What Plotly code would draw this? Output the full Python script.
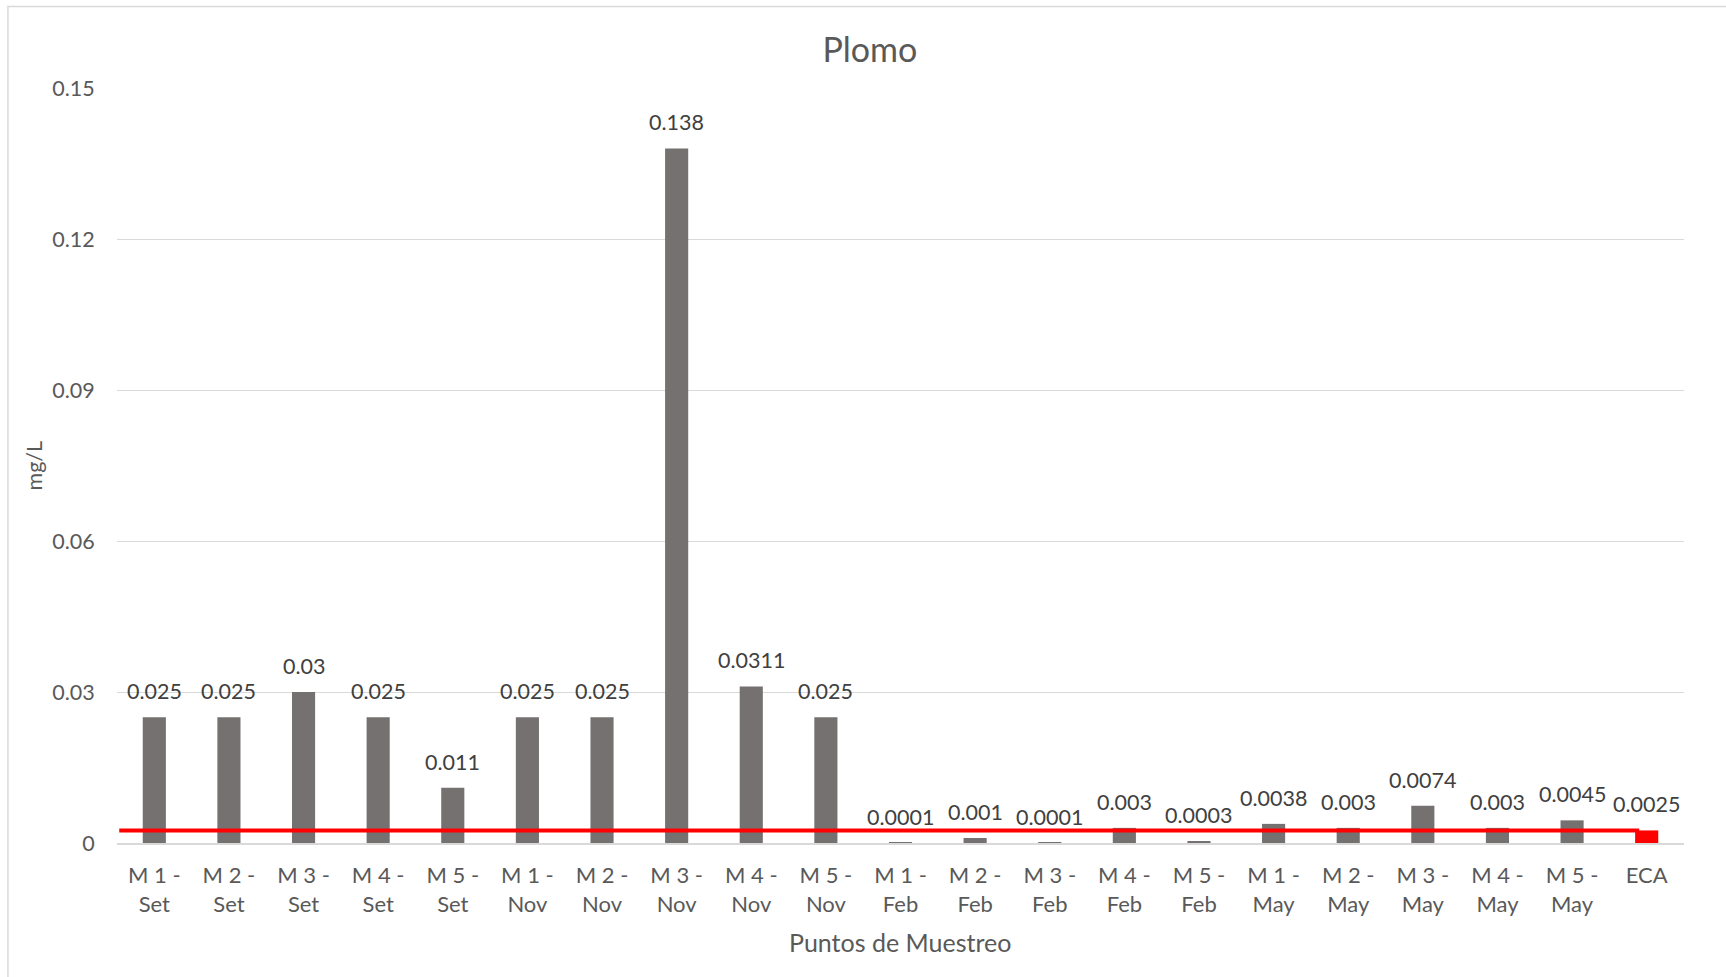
import plotly.graph_objects as go

# Sampling points (two-line tick labels) and lead concentrations in mg/L
categories = [
    "M 1 -<br>Set", "M 2 -<br>Set", "M 3 -<br>Set", "M 4 -<br>Set", "M 5 -<br>Set",
    "M 1 -<br>Nov", "M 2 -<br>Nov", "M 3 -<br>Nov", "M 4 -<br>Nov", "M 5 -<br>Nov",
    "M 1 -<br>Feb", "M 2 -<br>Feb", "M 3 -<br>Feb", "M 4 -<br>Feb", "M 5 -<br>Feb",
    "M 1 -<br>May", "M 2 -<br>May", "M 3 -<br>May", "M 4 -<br>May", "M 5 -<br>May",
    "ECA",
]
plomo = [
    0.025, 0.025, 0.03, 0.025, 0.011,
    0.025, 0.025, 0.138, 0.0311, 0.025,
    0.0001, 0.001, 0.0001, 0.003, 0.0003,
    0.0038, 0.003, 0.0074, 0.003, 0.0045,
    0.0025,
]
value_labels = [
    "0.025", "0.025", "0.03", "0.025", "0.011",
    "0.025", "0.025", "0.138", "0.0311", "0.025",
    "0.0001", "0.001", "0.0001", "0.003", "0.0003",
    "0.0038", "0.003", "0.0074", "0.003", "0.0045",
    "0.0025",
]
eca_limit = 0.0025
y_ticks = [0, 0.03, 0.06, 0.09, 0.12, 0.15]
y_ticktext = ["0", "0.03", "0.06", "0.09", "0.12", "0.15"]

FONT = "Lato"
TXT = "#595959"
GRID = "#D9D9D9"

xpos = list(range(len(categories)))
colors = ["#FF0000" if c == "ECA" else "#767171" for c in categories]

fig = go.Figure()
fig.add_trace(go.Bar(
    x=xpos, y=plomo, width=0.31,
    marker=dict(color=colors, line=dict(width=0)),
    hoverinfo="x+y", showlegend=False,
))

# Value labels above each bar
for xi, v, t in zip(xpos, plomo, value_labels):
    fig.add_annotation(
        x=xi, y=v, xref="x", yref="y", text=t, showarrow=False,
        yanchor="middle", yshift=26,
        font=dict(family=FONT, size=21.5, color="#404040"),
    )

# ECA reference line
fig.add_shape(
    type="line", xref="x", yref="y",
    x0=-0.47, x1=19.9, y0=eca_limit, y1=eca_limit,
    line=dict(color="#FF0000", width=4), layer="above",
)

# Chart frame
fig.add_shape(
    type="rect", xref="paper", yref="paper",
    x0=-0.0696, x1=1.2, y0=-0.5, y1=1.108,
    line=dict(color=GRID, width=1.5), layer="below",
)

# Axis titles
fig.add_annotation(
    xref="paper", yref="paper", x=-0.0536, y=0.5,
    text="mg/L", textangle=-90, showarrow=False,
    xanchor="center", yanchor="middle",
    font=dict(family=FONT, size=21.5, color=TXT),
)
fig.add_annotation(
    xref="paper", yref="paper", x=0.4999, y=-0.131,
    text="Puntos de Muestreo", showarrow=False,
    xanchor="center", yanchor="middle",
    font=dict(family=FONT, size=25, color=TXT),
)

fig.update_layout(
    width=1726, height=977,
    margin=dict(l=117, r=42, t=88, b=134),
    paper_bgcolor="white", plot_bgcolor="white",
    title=dict(
        text="Plomo", x=0.504, xanchor="center", y=0.949, yanchor="middle",
        font=dict(family=FONT, size=34, color=TXT),
    ),
    xaxis=dict(
        range=[-0.5, len(categories) - 0.5],
        tickmode="array", tickvals=xpos, ticktext=categories,
        tickfont=dict(family=FONT, size=22, color=TXT),
        ticks="outside", ticklen=12, tickcolor="rgba(0,0,0,0)",
        showgrid=False, zeroline=False,
        showline=True, linecolor=GRID, linewidth=2,
    ),
    yaxis=dict(
        range=[0, 0.15],
        tickmode="array", tickvals=y_ticks, ticktext=y_ticktext,
        tickfont=dict(family=FONT, size=21.5, color=TXT),
        ticks="outside", ticklen=17, tickcolor="rgba(0,0,0,0)",
        showgrid=True, gridcolor=GRID, gridwidth=1.3,
        zeroline=False, showline=False,
    ),
    bargap=0.69,
)

fig.write_html("out.html")
